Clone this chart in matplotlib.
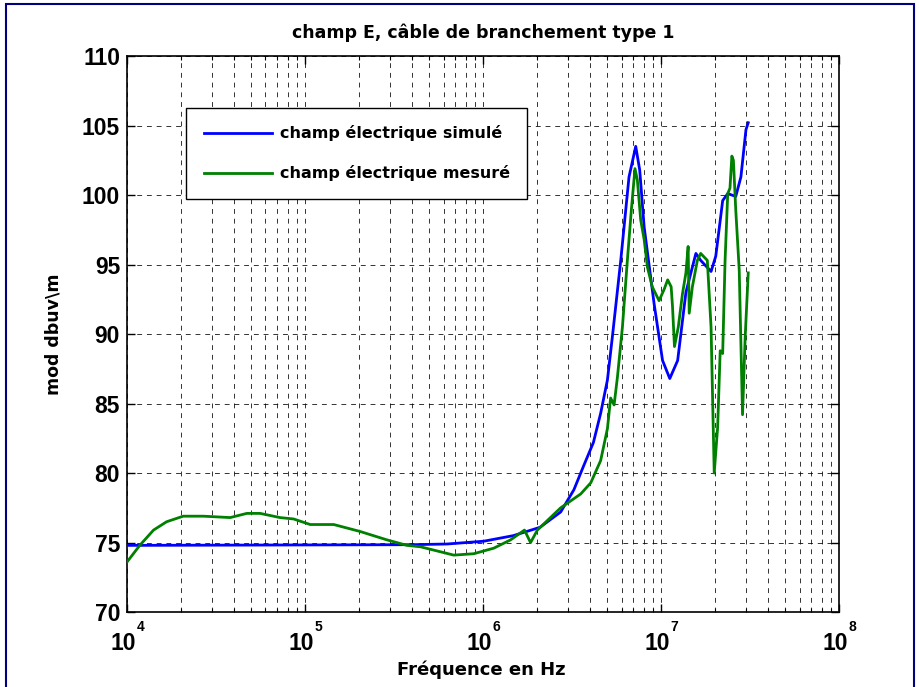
import math
import matplotlib
matplotlib.use("Agg")
import matplotlib.pyplot as plt
from matplotlib import font_manager as fm
from matplotlib.ticker import FixedLocator, FuncFormatter, LogLocator, NullFormatter
from matplotlib.patches import Rectangle

plt.rcParams['font.family'] = ['Liberation Sans', 'DejaVu Sans']

title = "champ E, câble de branchement type 1"
xlabel = "Fréquence en Hz"
ylabel = "mod dbuv\\m"
legend_labels = ["champ électrique simulé", "champ électrique mesuré"]
yticks = [70, 75, 80, 85, 90, 95, 100, 105, 110]
xticks = [1e4, 1e5, 1e6, 1e7, 1e8]

sim_freq = [1.0e4, 4.0e5, 6.3e5, 1.01e6, 1.48e6, 2.09e6, 2.73e6, 3.24e6, 3.67e6,
            4.17e6, 4.58e6, 5.0e6, 5.33e6, 5.94e6, 6.61e6, 7.21e6, 7.59e6, 8.04e6,
            9.14e6, 1.02e7, 1.12e7, 1.24e7, 1.38e7, 1.57e7, 1.67e7, 1.91e7, 2.03e7,
            2.22e7, 2.37e7, 2.63e7, 2.81e7, 3.0e7, 3.09e7]
sim_val = [74.8, 74.85, 74.9, 75.1, 75.5, 76.1, 77.2, 78.8, 80.5,
           82.2, 84.3, 86.7, 89.8, 95.3, 101.3, 103.5, 101.8, 97.7,
           92.2, 88.1, 86.8, 88.1, 93.0, 95.8, 95.3, 94.5, 95.6,
           99.6, 100.1, 99.9, 101.3, 104.7, 105.2]

mes_freq = [1.0e4, 1.18e4, 1.41e4, 1.67e4, 2.07e4, 2.69e4, 3.8e4, 4.71e4, 5.6e4,
            7.24e4, 8.63e4, 1.07e5, 1.45e5, 2.04e5, 2.88e5, 3.74e5, 4.45e5, 6.85e5,
            8.87e5, 1.15e6, 1.43e6, 1.71e6, 1.85e6, 2.02e6, 2.73e6, 3.54e6, 4.03e6,
            4.58e6, 5.0e6, 5.21e6, 5.45e6, 5.69e6, 6.07e6, 6.47e6, 6.81e6, 7.14e6,
            7.36e6, 7.69e6, 8.04e6, 8.39e6, 8.93e6, 9.75e6, 1.04e7, 1.09e7, 1.14e7,
            1.16e7, 1.19e7, 1.25e7, 1.32e7, 1.38e7, 1.42e7, 1.44e7, 1.50e7, 1.60e7,
            1.67e7, 1.82e7, 1.91e7, 1.99e7, 2.08e7, 2.15e7, 2.22e7, 2.29e7, 2.37e7,
            2.44e7, 2.50e7, 2.55e7, 2.63e7, 2.75e7, 2.87e7, 2.97e7, 3.09e7]
mes_val = [73.6, 74.8, 75.9, 76.5, 76.9, 76.9, 76.8, 77.1, 77.1,
           76.8, 76.7, 76.3, 76.3, 75.8, 75.2, 74.8, 74.7, 74.1,
           74.2, 74.6, 75.2, 75.9, 75.0, 75.9, 77.5, 78.5, 79.3,
           80.9, 83.2, 85.4, 84.9, 86.9, 90.5, 95.3, 98.9, 101.9,
           101.1, 98.2, 96.8, 94.8, 93.4, 92.4, 93.2, 93.9, 93.4,
           92.0, 89.1, 90.5, 92.9, 94.4, 96.3, 91.5, 93.4, 95.3,
           95.8, 95.3, 90.5, 80.0, 83.3, 88.8, 88.6, 95.3, 100.1,
           100.5, 102.8, 102.5, 98.9, 94.6, 84.2, 89.8, 94.4]

# pick the regular-width Liberation Sans Bold file (avoid the Narrow variant)
bold_file = None
for f in fm.fontManager.ttflist:
    if f.name == 'Liberation Sans' and f.weight in (700, 'bold') and f.style == 'normal' \
            and 'narrow' not in f.fname.lower():
        bold_file = f.fname
        break

def num_font(size):
    if bold_file:
        return fm.FontProperties(fname=bold_file, size=size)
    return fm.FontProperties(family='DejaVu Sans', weight='bold', size=size)

WIDE = ['DejaVu Sans']

fig = plt.figure(figsize=(9.2, 6.87), dpi=100)
fig.patch.set_facecolor('white')
ax = fig.add_axes([0.138, 0.109, 0.774, 0.8095])

ax.plot(sim_freq, sim_val, color='#0000ff', lw=2.0, label=legend_labels[0], zorder=3)
ax.plot(mes_freq, mes_val, color='#008000', lw=2.0, label=legend_labels[1], zorder=3)

ax.set_xscale('log')
ax.set_xlim(1e4, 1e8)
ax.set_ylim(70, 110)
ax.xaxis.set_major_locator(FixedLocator(xticks))
ax.xaxis.set_minor_locator(LogLocator(base=10, subs=range(2, 10), numticks=20))
ax.xaxis.set_minor_formatter(NullFormatter())
ax.xaxis.set_major_formatter(NullFormatter())
ax.yaxis.set_major_locator(FixedLocator(yticks))
ax.yaxis.set_major_formatter(FuncFormatter(lambda v, p: '%d' % v))

ax.tick_params(which='both', direction='in', top=True, right=True)
ax.tick_params(which='major', length=6, width=1)
ax.tick_params(which='minor', length=3, width=0.8)
ax.tick_params(axis='y', pad=5)
for lab in ax.get_yticklabels():
    lab.set_fontproperties(num_font(16.5))

# x tick labels: "10" with raised small exponent
for t in xticks:
    e = int(round(math.log10(t)))
    ax.annotate('10', xy=(t, 0), xycoords=('data', 'axes fraction'),
                xytext=(-12.2, -27.4), textcoords='offset points',
                ha='left', va='baseline', fontproperties=num_font(16.5))
    ax.annotate(str(e), xy=(t, 0), xycoords=('data', 'axes fraction'),
                xytext=(6.8, -13.7), textcoords='offset points',
                ha='left', va='baseline', fontproperties=num_font(10))

ax.grid(True, which='major', axis='both', color='black', lw=0.7, linestyle=(0, (5, 5)), alpha=0.8)
ax.grid(True, which='minor', axis='x', color='black', lw=0.7, linestyle=(0, (5, 5)), alpha=0.8)
for s in ax.spines.values():
    s.set_linewidth(1.2)

ax.annotate(title, xy=(0.5, 1), xycoords='axes fraction', xytext=(0, 12.7),
            textcoords='offset points', ha='center', va='baseline',
            fontsize=12.5, fontweight='bold', family=WIDE)
ax.annotate(xlabel, xy=(0.5, 0), xycoords='axes fraction', xytext=(-1, -45.4),
            textcoords='offset points', ha='center', va='baseline',
            fontsize=13, fontweight='bold', family=WIDE)
ax.annotate(ylabel, xy=(0, 0.5), xycoords='axes fraction', xytext=(-53, 0),
            textcoords='offset points', ha='center', va='center', rotation=90,
            fontsize=12.5, fontweight='bold', family=WIDE)

leg = ax.legend(loc='upper left', bbox_to_anchor=(0.083, 0.907),
                prop={'weight': 'bold', 'size': 11.5, 'family': WIDE},
                frameon=True, fancybox=False,
                handlelength=4.3, borderpad=1.1, labelspacing=1.5, handletextpad=0.45,
                borderaxespad=0)
leg.get_frame().set_edgecolor('black')
leg.get_frame().set_linewidth(1.0)
leg.get_frame().set_alpha(1)
leg.set_zorder(5)

fig.add_artist(Rectangle((0.007, -0.01), 0.986, 1.004, transform=fig.transFigure,
                         fill=False, edgecolor='#000080', lw=1.5))

fig.savefig('out.png', dpi=100, facecolor='white')
